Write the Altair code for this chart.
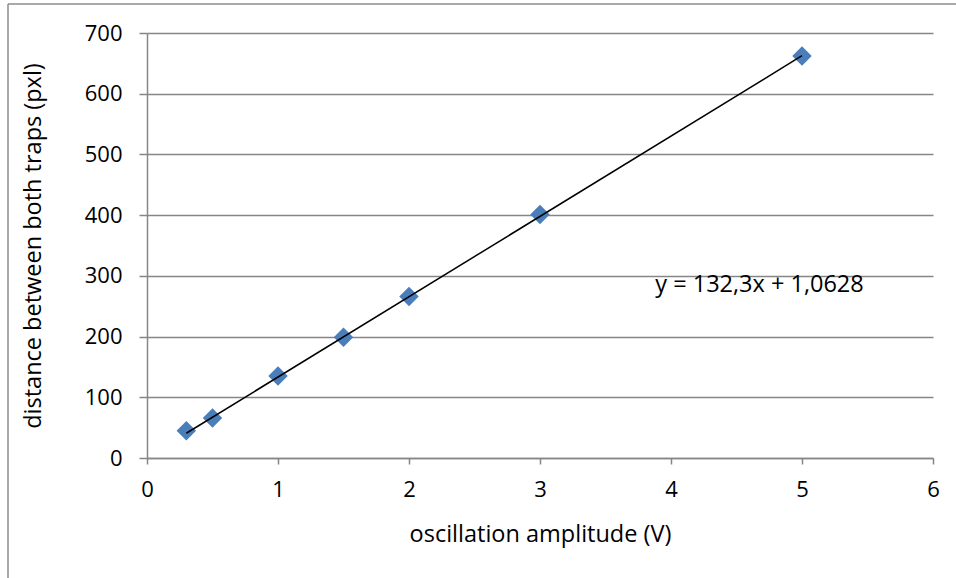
import altair as alt
import pandas as pd

# Measured trap separation versus oscillation amplitude
amplitude_v = [0.3, 0.5, 1.0, 1.5, 2.0, 3.0, 5.0]
distance_pxl = [45, 66, 135, 199, 266, 401, 662]

# Linear fit coefficients (as printed on the chart)
slope = 132.3
intercept = 1.0628
fit_label = "y = 132,3x + 1,0628"

points = pd.DataFrame({"amp": amplitude_v, "dist": distance_pxl})
x_min, x_max = min(amplitude_v), max(amplitude_v)
fit = pd.DataFrame({
    "amp": [x_min, x_max],
    "dist": [slope * x_min + intercept, slope * x_max + intercept],
})
label_df = pd.DataFrame({"amp": [3.88], "dist": [285], "text": [fit_label]})

FONT = "Open Sans"
LABEL_FS = 22
TITLE_FS = 23.5
GRID = "#868686"

x_enc = alt.X(
    "amp:Q",
    title="oscillation amplitude (V)",
    scale=alt.Scale(domain=[0, 6], nice=False, zero=False),
    axis=alt.Axis(values=[0, 1, 2, 3, 4, 5, 6], grid=False, tickSize=6,
                  labelFlush=False, labelPadding=15, titlePadding=22,
                  format="d"),
)
y_enc = alt.Y(
    "dist:Q",
    title="distance between both traps (pxl)",
    scale=alt.Scale(domain=[0, 700], nice=False),
    axis=alt.Axis(values=list(range(0, 701, 100)), grid=True, tickSize=8,
                  labelFlush=False, labelPadding=17, titlePadding=39),
)

pts = alt.Chart(points).mark_point(
    shape="diamond", filled=True, size=380, color="#4A7EBB", opacity=1
).encode(x=x_enc, y=y_enc)

line = alt.Chart(fit).mark_line(color="black", strokeWidth=1.5).encode(
    x="amp:Q", y="dist:Q"
)

txt = alt.Chart(label_df).mark_text(
    align="left", baseline="middle", fontSize=TITLE_FS, font=FONT, color="black"
).encode(x="amp:Q", y="dist:Q", text="text:N")

# Outer chart frame (left and top edges)
frame_left = alt.Chart(pd.DataFrame({"k": [0]})).mark_rule(
    color="#8c8c8c", strokeWidth=1.5
).encode(x=alt.value(-139), y=alt.value(-29), y2=alt.value(560))
frame_top = alt.Chart(pd.DataFrame({"k": [0]})).mark_rule(
    color="#8c8c8c", strokeWidth=1.5
).encode(x=alt.value(-139), x2=alt.value(830), y=alt.value(-29))

chart = (
    alt.layer(frame_left, frame_top, pts, line, txt)
    .properties(
        width=786,
        height=425,
        autosize=alt.AutoSizeParams(type="none"),
        padding={"left": 147, "top": 33, "right": 23, "bottom": 120},
    )
    .configure_view(stroke=None)
    .configure_axis(
        domainColor=GRID,
        domainWidth=1.5,
        tickColor=GRID,
        tickWidth=1.5,
        gridColor=GRID,
        gridWidth=1.5,
        labelFont=FONT,
        labelFontSize=LABEL_FS,
        labelColor="black",
        titleFont=FONT,
        titleFontSize=TITLE_FS,
        titleFontWeight="normal",
        titleColor="black",
    )
)

chart.save("out.html", embed_options={"renderer": "svg", "actions": False})
